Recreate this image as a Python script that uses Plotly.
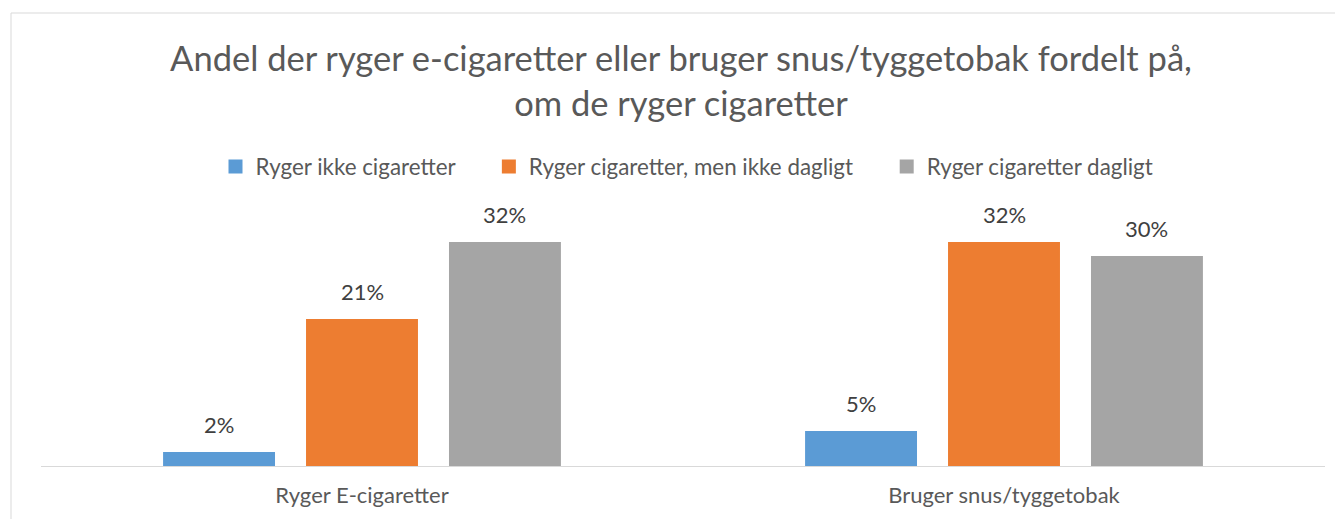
import plotly.graph_objects as go

categories = ["Ryger E-cigaretter", "Bruger snus/tyggetobak"]
series_names = ["Ryger ikke cigaretter", "Ryger cigaretter, men ikke dagligt", "Ryger cigaretter dagligt"]
ikke = [0.02, 0.05]
ikke_dagligt = [0.21, 0.32]
dagligt = [0.32, 0.30]
colors = ["#5B9BD5", "#ED7D31", "#A5A5A5"]

FONT = "Lato, 'Open Sans', sans-serif"
BARGAP = 0.332
NBSP = "\u00a0" * 5

fig = go.Figure()
annotations = []
for i, (name, vals, col) in enumerate(zip(series_names, [ikke, ikke_dagligt, dagligt], colors)):
    fig.add_trace(go.Bar(
        x=categories, y=vals, name=name, marker=dict(color=col, line=dict(width=0)),
        showlegend=False,
    ))
    # legend entry with a larger square swatch
    fig.add_trace(go.Scatter(
        x=[None], y=[None], mode="markers", name=name + (NBSP if i < len(series_names) - 1 else ""),
        marker=dict(symbol="square", size=14, color=col, line=dict(width=0)),
        showlegend=True, hoverinfo="skip",
    ))
    for j, v in enumerate(vals):
        annotations.append(dict(
            x=j + (i - 1) * (1 - BARGAP) / 3, y=v, xref="x", yref="y",
            text=f"{round(v*100)}%", showarrow=False, yanchor="bottom", yshift=12,
            font=dict(size=22, color="#404040", family=FONT),
        ))

# page has an 8px body margin; work in figure coordinates
W, H = 1335, 511
ml, mr, mt, mb = 33, 18, 213, 53
ph = H - mt - mb
pw = W - ml - mr

fig.update_layout(
    width=W, height=H,
    margin=dict(l=ml, r=mr, t=mt, b=mb),
    paper_bgcolor="white", plot_bgcolor="white",
    barmode="group", bargap=BARGAP, bargroupgap=0.217,
    font=dict(family=FONT, color="#595959"),
    title=dict(
        text="Andel der ryger e-cigaretter eller bruger snus/tyggetobak fordelt på,<br>om de ryger cigaretter",
        x=673 / W, xanchor="center", y=1 - 63 / H, yanchor="middle", yref="container",
        font=dict(size=34.5, color="#595959", family=FONT),
    ),
    legend=dict(
        orientation="h", x=(679 - ml) / pw, xanchor="center", y=1 + (mt - 159) / ph, yanchor="middle",
        xref="paper", font=dict(size=22.4, color="#595959", family=FONT),
        itemwidth=30, tracegroupgap=0,
    ),
    showlegend=True,
    annotations=annotations,
    xaxis=dict(showline=True, linecolor="#D9D9D9", linewidth=1, ticks="", showgrid=False,
               tickfont=dict(size=22, color="#595959", family=FONT), ticklabelstandoff=10),
    yaxis=dict(range=[0, 0.35], visible=False, showgrid=False, zeroline=False),
    shapes=[dict(type="rect", xref="paper", yref="paper",
                 x0=(3 - ml) / pw, x1=1.1, y0=-0.5, y1=(H - mb - 5) / ph,
                 line=dict(color="#D9D9D9", width=1), fillcolor="rgba(0,0,0,0)", layer="below")],
)

fig.write_html("out.html")
